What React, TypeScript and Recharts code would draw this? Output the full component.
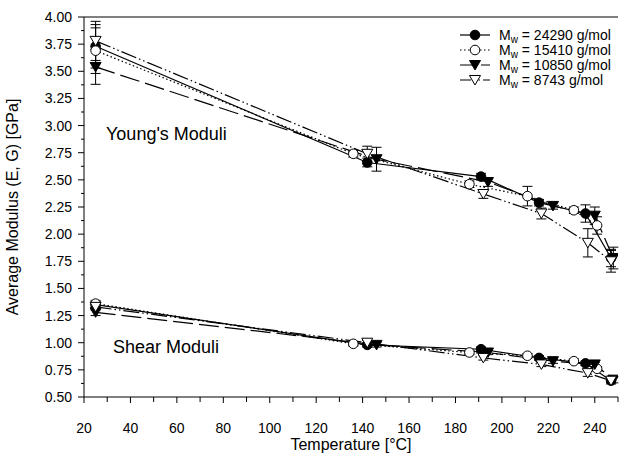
import React from 'react'
import { LineChart, Line, XAxis, YAxis, ErrorBar, ReferenceLine } from 'recharts'

// temperatures [°C] per molecular weight
const temps24290 = [25, 142, 191, 216, 236, 247]
const temps15410 = [25, 136, 186, 211, 231, 241]
const temps10850 = [25, 146, 194, 222, 240, 248]
const temps8743 = [25, 142, 192, 217, 237, 247]

// Young's modulus E [GPa]
const young24290 = [3.73, 2.66, 2.53, 2.29, 2.19, 1.78]
const young15410 = [3.69, 2.74, 2.46, 2.35, 2.22, 2.08]
const young10850 = [3.54, 2.69, 2.48, 2.26, 2.17, 1.78]
const young8743 = [3.78, 2.74, 2.37, 2.19, 1.92, 1.75]

const youngErr24290 = [0.2, 0.04, 0.03, 0.03, 0.08, 0.08]
const youngErr15410 = [0.21, 0.03, 0.03, 0.09, 0.03, 0.08]
const youngErr10850 = [0.16, 0.11, 0.04, 0.03, 0.08, 0.1]
const youngErr8743 = [0.18, 0.07, 0.04, 0.05, 0.13, 0.1]

// shear modulus G [GPa]
const shear24290 = [1.35, 0.98, 0.94, 0.86, 0.81, 0.65]
const shear15410 = [1.36, 0.99, 0.91, 0.88, 0.83, 0.76]
const shear10850 = [1.28, 0.98, 0.91, 0.83, 0.8, 0.66]
const shear8743 = [1.33, 1.0, 0.86, 0.8, 0.72, 0.65]

const shearErr24290 = [0.03, 0.02, 0.02, 0.02, 0.02, 0.02]
const shearErr15410 = [0.03, 0.02, 0.02, 0.02, 0.02, 0.02]
const shearErr10850 = [0.03, 0.02, 0.02, 0.02, 0.02, 0.03]
const shearErr8743 = [0.03, 0.02, 0.02, 0.02, 0.03, 0.03]

const xTicks = [20, 30, 40, 50, 60, 70, 80, 90, 100, 110, 120, 130, 140, 150, 160, 170, 180, 190, 200, 210, 220, 230, 240, 250]
const yTicks = [0.5, 0.625, 0.75, 0.875, 1.0, 1.125, 1.25, 1.375, 1.5, 1.625, 1.75, 1.875, 2.0, 2.125, 2.25, 2.375, 2.5, 2.625, 2.75, 2.875, 3.0, 3.125, 3.25, 3.375, 3.5, 3.625, 3.75, 3.875, 4.0]

const FONT = '"Liberation Sans", Arial, Helvetica, sans-serif'

type Kind = 'circleFilled' | 'circleOpen' | 'triFilled' | 'triOpen'

const build = (t: number[], v: number[], e: number[]) =>
  t.map((x, i) => ({ t: x, v: v[i], err: e[i] }))

const SERIES = [
  { name: '24290', kind: 'circleFilled' as Kind, dash: undefined, legendDash: undefined, young: build(temps24290, young24290, youngErr24290), shear: build(temps24290, shear24290, shearErr24290) },
  { name: '15410', kind: 'circleOpen' as Kind, dash: '1.5 2.5', legendDash: '1.5 2.5', young: build(temps15410, young15410, youngErr15410), shear: build(temps15410, shear15410, shearErr15410) },
  { name: '10850', kind: 'triFilled' as Kind, dash: '20 6', legendDash: '16 5', young: build(temps10850, young10850, youngErr10850), shear: build(temps10850, shear10850, shearErr10850) },
  { name: '8743', kind: 'triOpen' as Kind, dash: '16 3 1.5 3 1.5 3', legendDash: '11 3 1.5 3 1.5 3', young: build(temps8743, young8743, youngErr8743), shear: build(temps8743, shear8743, shearErr8743) },
]

function Marker({ cx, cy, kind }: { cx: number; cy: number; kind: Kind }) {
  if (kind === 'circleFilled' || kind === 'circleOpen') {
    return <circle cx={cx} cy={cy} r={4.8} fill={kind === 'circleFilled' ? '#000' : '#fff'} stroke="#000" strokeWidth={1} />
  }
  const pts = `${cx - 5.5},${cy - 4.5} ${cx + 5.5},${cy - 4.5} ${cx},${cy + 5}`
  return <polygon points={pts} fill={kind === 'triFilled' ? '#000' : '#fff'} stroke="#000" strokeWidth={1} />
}

const dotFor = (kind: Kind, tag: string) => (props: any) => {
  const { cx, cy, index } = props
  if (cx == null || cy == null) return <g key={`${tag}-${index}`} />
  return (
    <g key={`${tag}-${index}`}>
      <Marker cx={cx} cy={cy} kind={kind} />
    </g>
  )
}

const XTick = (props: any) => {
  const { x, y, payload } = props
  const major = payload.value % 20 === 0
  return (
    <g>
      <line x1={x} y1={y} x2={x} y2={y + (major ? 6 : 5)} stroke="#000" strokeWidth={1} />
      {major && payload.value <= 240 && (
        <text x={x} y={y + 36} textAnchor="middle" fontSize={14} fontFamily={FONT} fill="#000">
          {payload.value}
        </text>
      )}
    </g>
  )
}

const YTick = (props: any) => {
  const { x, y, payload } = props
  const k = Math.round((payload.value - 0.5) / 0.125)
  const major = k % 2 === 0
  return (
    <g>
      <line x1={x} y1={y} x2={x - (major ? 6 : 3)} y2={y} stroke="#000" strokeWidth={1} />
      {major && (
        <text x={x - 12} y={y + 5} textAnchor="end" fontSize={14} fontFamily={FONT} fill="#000">
          {payload.value.toFixed(2)}
        </text>
      )}
    </g>
  )
}

const legendY = [35, 50, 65, 80]

function LegendEntry({ y, kind, dash, label }: { y: number; kind: Kind; dash?: string; label: string }) {
  return (
    <g>
      <line x1={460} y1={y} x2={490} y2={y} stroke="#000" strokeWidth={1.2} strokeDasharray={dash} />
      <Marker cx={475} cy={y} kind={kind} />
      <text x={499} y={y + 5} fontSize={14} fontFamily={FONT} fill="#000">
        <tspan>M</tspan>
        <tspan dy={3} fontSize={10}>w</tspan>
        <tspan dy={-3}>{` = ${label} g/mol`}</tspan>
      </text>
    </g>
  )
}

export default function App() {
  return (
    <div style={{ position: 'absolute', left: 0, top: 0, width: 626, height: 461, background: '#fff' }}>
      <LineChart width={626} height={461} margin={{ top: 17, right: 8, bottom: 34, left: 0 }}>
        <XAxis
          dataKey="t"
          type="number"
          domain={[20, 250]}
          ticks={xTicks}
          interval={0}
          tick={<XTick />}
          tickSize={0}
          tickMargin={0}
          height={30}
          stroke="#000"
          allowDataOverflow
        />
        <YAxis
          type="number"
          domain={[0.5, 4]}
          ticks={yTicks}
          interval={0}
          tick={<YTick />}
          tickSize={0}
          tickMargin={0}
          width={84}
          stroke="#000"
          allowDataOverflow
        />
        <ReferenceLine y={4} stroke="#000" strokeWidth={1} />
        {SERIES.map((s) => (
          <Line
            key={`y-${s.name}`}
            data={s.young}
            dataKey="v"
            type="linear"
            stroke="#000"
            strokeWidth={1.2}
            strokeDasharray={s.dash}
            dot={dotFor(s.kind, `y${s.name}`)}
            activeDot={false}
            legendType="none"
            isAnimationActive={false}
          >
            <ErrorBar dataKey="err" width={5} stroke="#000" strokeWidth={1} direction="y" />
          </Line>
        ))}
        {SERIES.map((s) => (
          <Line
            key={`s-${s.name}`}
            data={s.shear}
            dataKey="v"
            type="linear"
            stroke="#000"
            strokeWidth={1.2}
            strokeDasharray={s.dash}
            dot={dotFor(s.kind, `s${s.name}`)}
            activeDot={false}
            legendType="none"
            isAnimationActive={false}
          >
            <ErrorBar dataKey="err" width={5} stroke="#000" strokeWidth={1} direction="y" />
          </Line>
        ))}
        <text x={106} y={140} fontSize={18} fontFamily={FONT} fill="#000">Young's Moduli</text>
        <text x={113} y={353} fontSize={18} fontFamily={FONT} fill="#000">Shear Moduli</text>
        <text x={351} y={450} textAnchor="middle" fontSize={16} fontFamily={FONT} fill="#000">Temperature [°C]</text>
        <text
          x={18}
          y={207}
          textAnchor="middle"
          fontSize={16}
          fontFamily={FONT}
          fill="#000"
          transform="rotate(-90 18 207)"
        >
          Average Modulus (E, G) [GPa]
        </text>
        {SERIES.map((s, i) => (
          <LegendEntry key={`lg-${s.name}`} y={legendY[i]} kind={s.kind} dash={s.legendDash} label={s.name} />
        ))}
      </LineChart>
    </div>
  )
}
